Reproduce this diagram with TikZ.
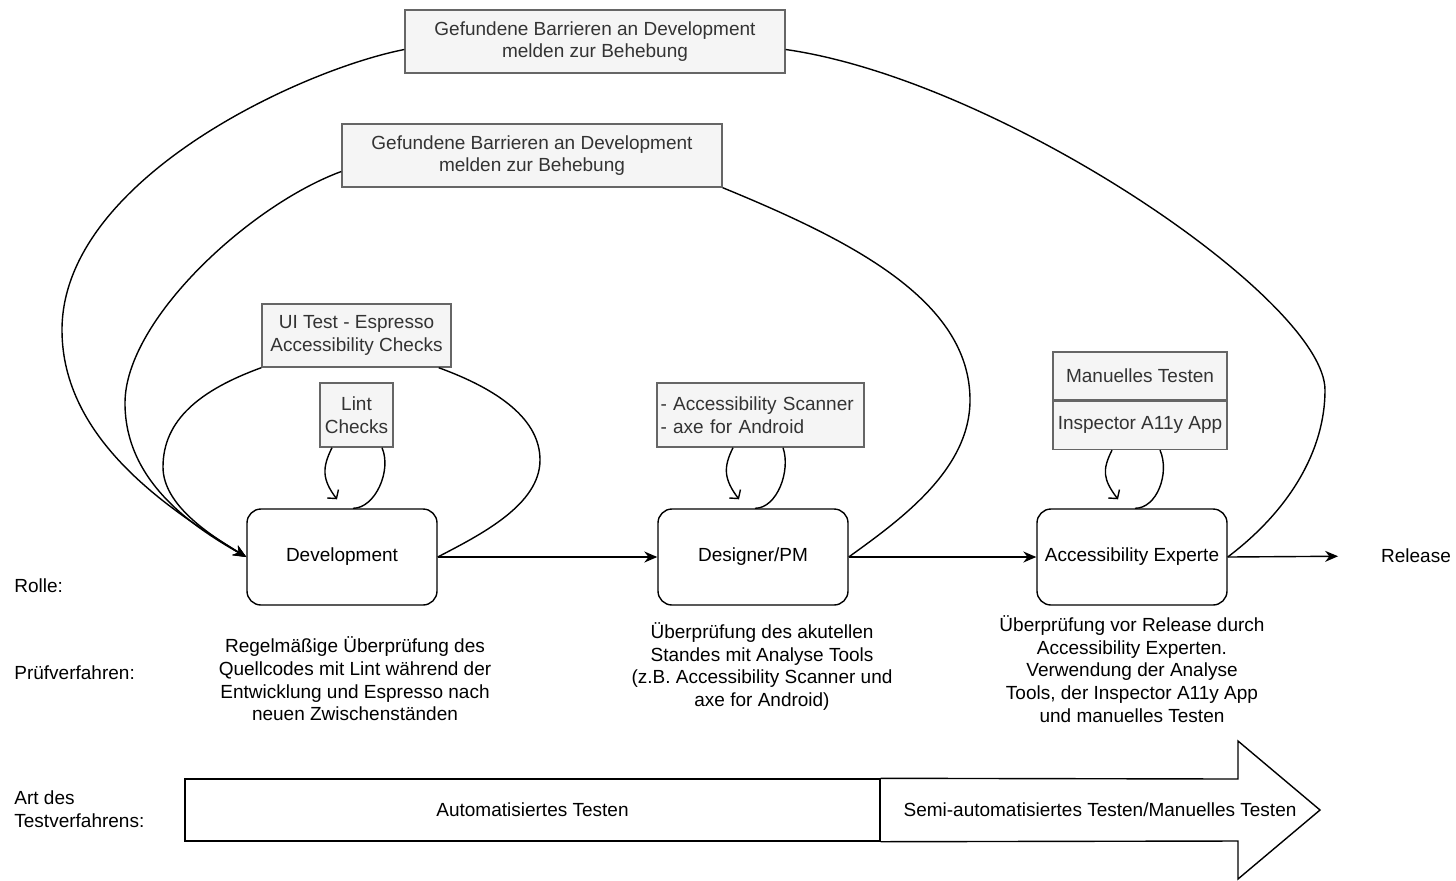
\documentclass[tikz,border=0pt]{standalone}
\usepackage{fontspec}
\setmainfont{Liberation Sans}
\usetikzlibrary{arrows.meta,calc}

\definecolor{notefill}{HTML}{F5F5F5}
\definecolor{noteline}{HTML}{666666}
\definecolor{notetext}{HTML}{333333}

\tikzset{
  role/.style={draw, rounded corners=7pt, line width=0.7pt, minimum width=95pt, minimum height=48pt, inner sep=1pt},
  note/.style={draw=noteline, fill=notefill, text=notetext, line width=0.7pt, inner sep=1pt, align=center},
  flow/.style={-{Stealth[length=6.5pt,width=5.5pt]}, line width=0.7pt},
  selfloop/.style={-{Straight Barb[length=3pt,width=7pt]}, line width=0.7pt},
  curve/.style={line width=0.7pt},
  rowlabel/.style={anchor=west, inner sep=0pt, align=left},
  descr/.style={inner sep=0pt, align=center}
}

\begin{document}
\begin{tikzpicture}[x=0.5pt,y=-0.5pt,font=\fontsize{9.5}{11.3}\selectfont]
\useasboundingbox (0,0) rectangle (1456,880);

% Rollen
\node[role] (dev) at (342,557) {Development};
\node[role] (des) at (753,557) {Designer/PM};
\node[role] (exp) at (1132,557) {Accessibility Experte};
\node (rel) at (1416,556) {Release};

\draw[flow] (dev.east) -- (des.west);
\draw[flow] (des.east) -- (exp.west);
\draw[flow, shorten >=18pt] (exp.east) -- (rel.west);

% Rueckmeldungen
\node[note, minimum width=190pt, minimum height=31.5pt] (top1) at (595,41.5) {Gefundene Barrieren an Development\\melden zur Behebung};
\node[note, minimum width=190pt, minimum height=31.5pt] (top2) at (532,155.5) {Gefundene Barrieren an Development\\melden zur Behebung};
\node[note, minimum width=94.5pt, minimum height=31.5pt] (uitest) at (356.5,335.5) {UI Test - Espresso\\Accessibility Checks};

\draw[curve] (exp.east) .. controls (1290,510) and (1325,450) .. (1325,390) .. controls (1325,300) and (1000,80) .. ([yshift=-4pt]top1.east);
\draw[flow] ([yshift=-4pt]top1.west) .. controls (300,70) and (62,180) .. (62,330) .. controls (62,440) and (170,510) .. (dev.west);

\draw[curve] (des.east) .. controls (900,520) and (970,470) .. (970,400) .. controls (970,300) and (850,240) .. (top2.south east);
\draw[flow] ([yshift=-8pt]top2.west) .. controls (250,205) and (125,320) .. (125,403) .. controls (125,480) and (190,525) .. (dev.west);

\draw[curve] ($(uitest.south east)+(-13,0)$) .. controls (500,390) and (540,420) .. (540,460) .. controls (540,505) and (480,535) .. (dev.east);
\draw[flow] (uitest.south west) .. controls (200,390) and (163,420) .. (163,467) .. controls (163,505) and (210,535) .. (dev.west);

% Werkzeuge
\node[note, minimum width=36.5pt, minimum height=32pt] (lint) at (356.5,415) {Lint\\Checks};
\node[note, align=left, text width=100pt, inner sep=1.75pt, minimum height=32pt] (scan) at (760.5,415) {- Accessibility Scanner\\- axe for Android};
\node[note, minimum width=87pt, minimum height=24pt] (man) at (1140,376) {Manuelles Testen};
\node[note, minimum width=87pt, minimum height=24pt, anchor=north] (insp) at (man.south) {Inspector A11y App};

\draw[curve] ($(dev.north)+(11,0)$) .. controls +(22,0) and +(10,23) .. ($(lint.south)+(25.5,0)$);
\draw[selfloop] ($(lint.south)+(-24.5,0)$) .. controls +(-10,20) and +(-15,-20) .. ($(dev.north)+(-5,-9)$);

\draw[curve] ($(des.north)+(2,0)$) .. controls +(22,0) and +(8,23) .. ($(scan.south)+(22.5,0)$);
\draw[selfloop] ($(scan.south)+(-27.5,0)$) .. controls +(-10,20) and +(-15,-20) .. ($(des.north)+(-14,-9)$);

\draw[curve] ($(exp.north)+(3,0)$) .. controls +(22,0) and +(10,23) .. ($(insp.south)+(20,0)$);
\draw[selfloop] ($(insp.south)+(-28,0)$) .. controls +(-10,20) and +(-15,-20) .. ($(exp.north)+(-14,-9)$);

% Beschreibungen
\node[rowlabel] (rolle) at (14,586) {Rolle:};
\node[rowlabel] (pruef) at (14,673) {Prüfverfahren:};
\node[rowlabel] (art) at (14,809) {Art des\\Testverfahrens:};

\node[descr] (devtxt) at (355,679) {Regelmäßige Überprüfung des\\Quellcodes mit Lint während der\\Entwicklung und Espresso nach\\neuen Zwischenständen};
\node[descr] (destxt) at (762,666.5) {Überprüfung des akutellen\\Standes mit Analyse Tools\\(z.B. Accessibility Scanner und\\axe for Android)};
\node[descr] (exptxt) at (1132,669) {Überprüfung vor Release durch\\Accessibility Experten.\\Verwendung der Analyse\\Tools, der Inspector A11y App\\und manuelles Testen};

% Testverfahren
\node[draw, line width=0.7pt, minimum width=347.5pt, minimum height=31pt] (auto) at (532.5,810) {Automatisiertes Testen};
\draw[line width=0.7pt] (auto.north east) -- (1238,779) -- (1238,741) -- (1320,810) -- (1238,879) -- (1238,841) -- (auto.south east);
\node (semi) at (1100,810) {Semi-automatisiertes Testen/Manuelles Testen};
\end{tikzpicture}
\end{document}
